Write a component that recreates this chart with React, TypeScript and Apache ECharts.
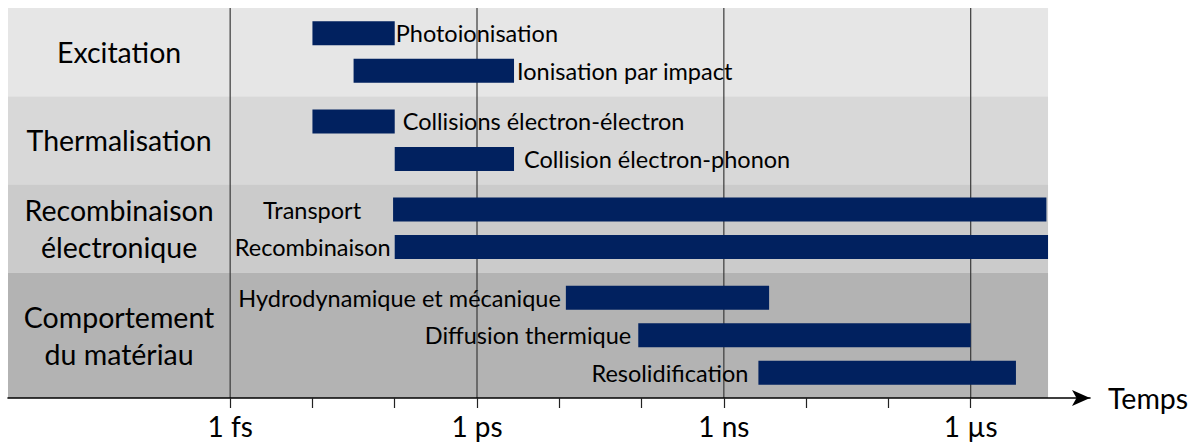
import React, { useEffect, useRef } from "react";
import * as echarts from "echarts";

// ---- Data ----
const GROUPS = [
  "Excitation",
  "Thermalisation",
  "Recombinaison\nélectronique",
  "Comportement\ndu matériau",
];
const GROUP_ROWS = [2, 2, 2, 3];
const PROCESSES = [
  "Photoionisation",
  "Ionisation par impact",
  "Collisions électron-électron",
  "Collision électron-phonon",
  "Transport",
  "Recombinaison",
  "Hydrodynamique et mécanique",
  "Diffusion thermique",
  "Resolidification",
];
// log10(time / s)
const START_EXP = [-14, -13.5, -14, -13, -13.02, -13, -10.92, -10.04, -8.58];
const END_EXP = [-13, -11.55, -13, -11.55, -5.08, -5.06, -8.45, -6, -5.45];
const TICK_EXP = [-15, -14, -13, -12, -11, -10, -9, -8, -7, -6];
const MAJOR_EXP = [-15, -12, -9, -6];
const MAJOR_LABELS = ["1 fs", "1 ps", "1 ns", "1 µs"];
const AXIS_NAME = "Temps";
const SCALE_END_EXP = -5.06;

// ---- Style / layout config ----
const LABEL_SIDE = ["right", "right", "right", "right", "left", "left", "left", "left", "left"];
const LABEL_GAP = [1, 3, 8, 10, 32, 4, 5, 7, 10];
const BAND_COLORS = ["#e6e6e6", "#d8d8d8", "#cbcbcb", "#b3b3b3"];
const BAR_COLOR = "#01215f";
const FONT = "Lato, 'Open Sans', sans-serif";
const X_MIN = -17.7;
const X_MAX = -4.55;
const PAD = 0.675;
const BAR_H = 0.64;

// derived layout in row units
const bandTops: number[] = [];
const bandBottoms: number[] = [];
const rowY: number[] = [];
{
  let t = 0;
  GROUP_ROWS.forEach((n) => {
    bandTops.push(t);
    for (let k = 0; k < n; k++) rowY.push(t + PAD + k);
    t += n - 1 + 2 * PAD;
    bandBottoms.push(t);
  });
}
const Y_MAX = bandBottoms[bandBottoms.length - 1];

export default function App() {
  const ref = useRef<HTMLDivElement>(null);
  useEffect(() => {
    document.body.style.margin = "0";
    const chart = echarts.init(ref.current!, null, { renderer: "svg" });
    chart.setOption({
      animation: false,
      backgroundColor: "#ffffff",
      grid: { left: 8, top: 8, width: 1082, height: 390 },
      xAxis: {
        type: "value",
        min: X_MIN,
        max: X_MAX,
        position: "bottom",
        z: 10,
        axisLine: {
          show: true,
          onZero: false,
          symbol: ["none", "arrow"],
          symbolSize: [12, 18],
          lineStyle: { color: "#000", width: 1.6 },
        },
        axisTick: {
          show: true,
          customValues: TICK_EXP,
          length: 10,
          inside: false,
          lineStyle: { color: "#222", width: 1.2 },
        },
        axisLabel: {
          customValues: MAJOR_EXP,
          formatter: (v: number) => {
            const i = MAJOR_EXP.findIndex((m) => Math.abs(m - v) < 1e-6);
            return i >= 0 ? MAJOR_LABELS[i] : "";
          },
          fontSize: 28,
          fontFamily: FONT,
          color: "#000",
          margin: 14,
        },
        splitLine: { show: false },
        name: AXIS_NAME,
        nameLocation: "end",
        nameGap: 18,
        nameTextStyle: { fontSize: 28.5, fontFamily: FONT, color: "#000", verticalAlign: "middle" },
      },
      yAxis: { type: "value", min: 0, max: Y_MAX, inverse: true, show: false },
      series: [
        {
          type: "custom",
          z: 1,
          data: GROUPS.map((_, g) => [g, bandTops[g], bandBottoms[g]]),
          renderItem: (params: any, api: any) => {
            const g = api.value(0);
            const cs = params.coordSys;
            const pTop = api.coord([SCALE_END_EXP, api.value(1)]);
            const pBot = api.coord([SCALE_END_EXP, api.value(2)]);
            const p15 = api.coord([MAJOR_EXP[0], api.value(1)]);
            return {
              type: "group",
              children: [
                {
                  type: "rect",
                  shape: { x: cs.x, y: pTop[1], width: pTop[0] - cs.x, height: pBot[1] - pTop[1] },
                  style: { fill: BAND_COLORS[g] },
                },
                {
                  type: "text",
                  x: (cs.x + p15[0]) / 2,
                  y: (pTop[1] + pBot[1]) / 2,
                  style: {
                    text: GROUPS[g],
                    align: "center",
                    verticalAlign: "middle",
                    fontSize: 28.5,
                    lineHeight: 37,
                    fontFamily: FONT,
                    fill: "#000",
                  },
                },
              ],
            };
          },
        },
        {
          type: "custom",
          z: 2,
          data: MAJOR_EXP.map((v) => [v]),
          renderItem: (params: any, api: any) => {
            const cs = params.coordSys;
            const p = api.coord([api.value(0), 0]);
            return {
              type: "line",
              shape: { x1: p[0], y1: cs.y, x2: p[0], y2: cs.y + cs.height },
              style: { stroke: "#3a3a3a", lineWidth: 1.2 },
            };
          },
        },
        {
          type: "custom",
          z: 3,
          data: PROCESSES.map((_, i) => [rowY[i], START_EXP[i], END_EXP[i]]),
          renderItem: (params: any, api: any) => {
            const i = params.dataIndex;
            const y = api.value(0);
            const p0 = api.coord([api.value(1), y]);
            const p1 = api.coord([api.value(2), y]);
            const h = api.size([0, BAR_H])[1];
            const right = LABEL_SIDE[i] === "right";
            return {
              type: "group",
              children: [
                {
                  type: "rect",
                  shape: { x: p0[0], y: p0[1] - h / 2, width: p1[0] - p0[0], height: h },
                  style: { fill: BAR_COLOR },
                },
                {
                  type: "text",
                  x: right ? p1[0] + LABEL_GAP[i] : p0[0] - LABEL_GAP[i],
                  y: p0[1],
                  style: {
                    text: PROCESSES[i],
                    align: right ? "left" : "right",
                    verticalAlign: "middle",
                    fontSize: 23.5,
                    fontFamily: FONT,
                    fill: "#000",
                  },
                },
              ],
            };
          },
        },
      ],
    });
    return () => chart.dispose();
  }, []);
  return <div ref={ref} style={{ width: 1197, height: 448 }} />;
}
